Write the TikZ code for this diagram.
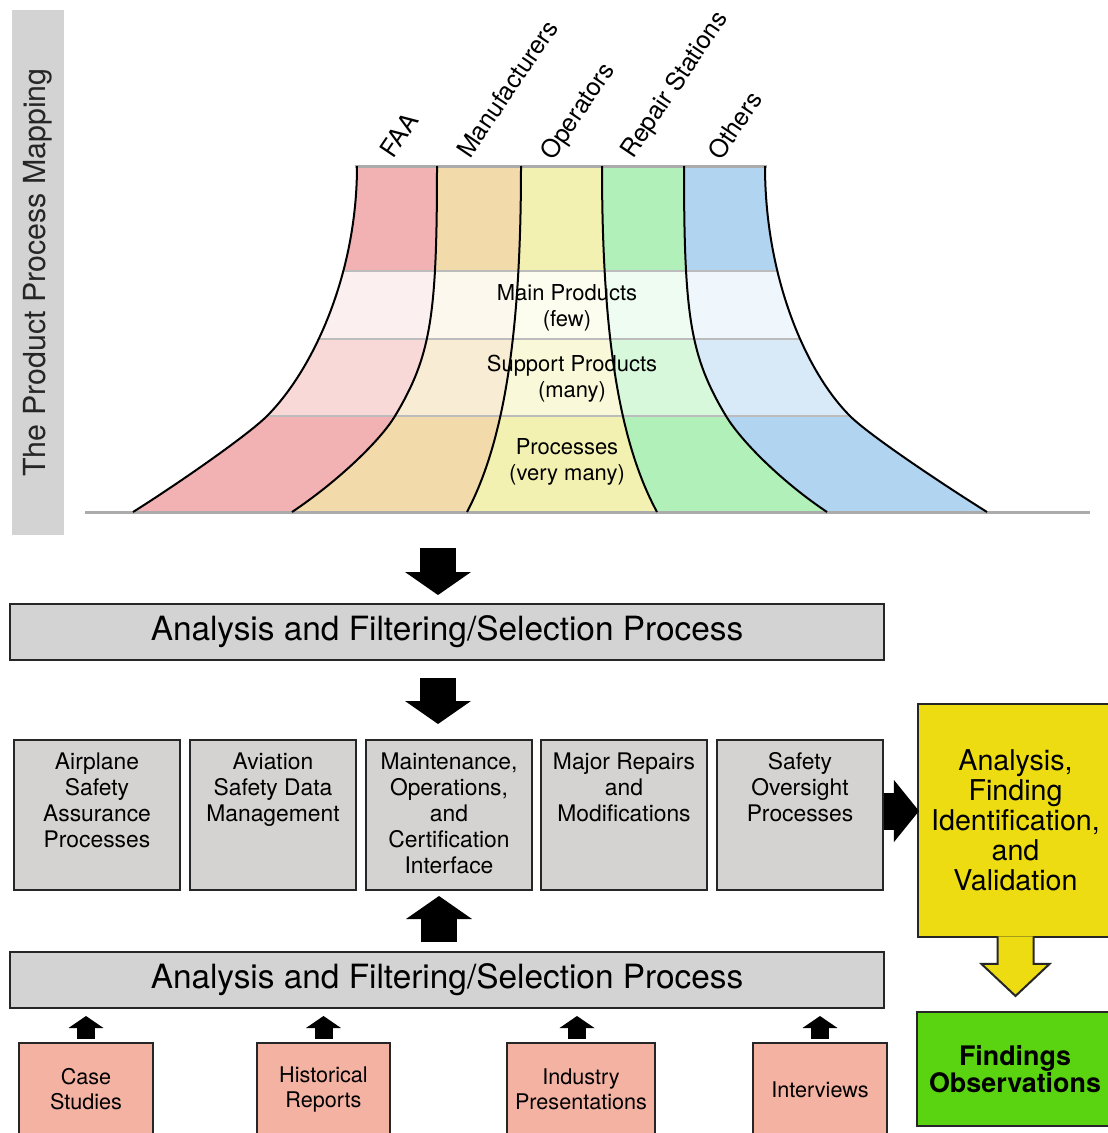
\documentclass[tikz,border=0pt]{standalone}
\usepackage{fontspec}
\setmainfont{TeX Gyre Heros}
\usepackage{tikz}
\usetikzlibrary{positioning,calc,arrows.meta}

\definecolor{faa}{HTML}{F2B1B2}
\definecolor{manu}{HTML}{F3DAAB}
\definecolor{oper}{HTML}{F2F1B1}
\definecolor{repair}{HTML}{B1F1B9}
\definecolor{others}{HTML}{B1D4F1}
\definecolor{boxgray}{HTML}{D5D2D2}
\definecolor{bargray}{HTML}{D3D3D3}
\definecolor{pinkbox}{HTML}{F4B2A3}
\definecolor{yelbox}{HTML}{EDDC12}
\definecolor{greenbox}{HTML}{5AD410}
\definecolor{linegray}{HTML}{ABABAB}
\definecolor{boxline}{HTML}{262626}

\begin{document}
\begin{tikzpicture}[x=0.02cm,y=-0.02cm,
    laneline/.style={draw=black, line width=0.04cm},
    rimline/.style={draw=linegray, line width=0.06cm},
    bandline/.style={draw=linegray!80, line width=0.05cm},
    lanelabel/.style={anchor=base west, rotate=56, inner sep=0pt, font=\fontsize{14.2}{16}\selectfont},
    bandtext/.style={align=center, inner sep=0pt, font=\fontsize{12.5}{14.8}\selectfont},
    mapbar/.style={fill=bargray, rotate=90, minimum width=10.5cm, minimum height=1.04cm, inner sep=0pt, text=black!85, font=\fontsize{17.3}{20}\selectfont},
    bar/.style={draw=boxline, fill=bargray, line width=0.04cm, minimum width=17.48cm, minimum height=1.12cm, inner sep=0pt, font=\fontsize{19}{22}\selectfont},
    graybox/.style={draw=boxline, fill=boxgray, line width=0.04cm, minimum width=3.32cm, minimum height=3cm, inner sep=0pt},
    boxtext/.style={align=center, inner sep=0pt, font=\fontsize{13}{14.8}\selectfont},
    pinkbox/.style={draw=boxline, fill=pinkbox, line width=0.04cm, minimum height=1.86cm, inner sep=0pt, align=center, font=\fontsize{12.3}{14.2}\selectfont},
    yelbox/.style={draw=boxline, fill=yelbox, line width=0.04cm, minimum width=3.9cm, minimum height=4.66cm, inner sep=0pt, align=center, font=\fontsize{16.3}{17.1}\selectfont},
    greenbox/.style={draw=boxline, fill=greenbox, line width=0.04cm, minimum width=3.92cm, minimum height=2.28cm, inner sep=0pt, align=center, font=\bfseries\fontsize{15.3}{14.2}\selectfont},
    bigarrow/.style={line width=0.72cm, -{Triangle[width=1.32cm,length=0.46cm,line width=0pt]}},
    sidearrow/.style={line width=0.74cm, -{Triangle[width=1.24cm,length=0.5cm,line width=0pt]}},
    smallarrow/.style={line width=0.36cm, -{Triangle[width=0.7cm,length=0.24cm,line width=0pt]}},
    hollowarrow/.style={fill=yelbox, draw=boxline, line width=0.04cm, line join=miter}]

  \useasboundingbox (0,0) rectangle (1107,1133);

  % lanes of the funnel
  \begin{scope}
    \clip (357,166) .. controls (357,276) and (312,371) .. (267,416) .. controls (247,436) and (173,487) .. (133,512)
      -- (292,512) .. controls (337,482) and (380,441) .. (395,416) .. controls (431,356) and (437,316) .. (437,166) -- cycle;
    \foreach \ya/\yb/\t in {166/271/100,271/339/20,339/416/50,416/512/100}
      \fill[faa!\t] (0,\ya) rectangle (1107,\yb);
  \end{scope}
  \begin{scope}
    \clip (437,166) .. controls (437,316) and (431,356) .. (395,416) .. controls (380,441) and (337,482) .. (292,512)
      -- (467,512) .. controls (505,440) and (521,330) .. (521,166) -- cycle;
    \foreach \ya/\yb/\t in {166/271/100,271/339/20,339/416/50,416/512/100}
      \fill[manu!\t] (0,\ya) rectangle (1107,\yb);
  \end{scope}
  \begin{scope}
    \clip (521,166) .. controls (521,330) and (505,440) .. (467,512)
      -- (657,512) .. controls (618,440) and (602,330) .. (602,166) -- cycle;
    \foreach \ya/\yb/\t in {166/271/100,271/339/20,339/416/50,416/512/100}
      \fill[oper!\t] (0,\ya) rectangle (1107,\yb);
  \end{scope}
  \begin{scope}
    \clip (602,166) .. controls (602,330) and (618,440) .. (657,512)
      -- (827,512) .. controls (782,482) and (741,441) .. (726,416) .. controls (690,356) and (684,316) .. (684,166) -- cycle;
    \foreach \ya/\yb/\t in {166/271/100,271/339/20,339/416/50,416/512/100}
      \fill[repair!\t] (0,\ya) rectangle (1107,\yb);
  \end{scope}
  \begin{scope}
    \clip (684,166) .. controls (684,316) and (690,356) .. (726,416) .. controls (741,441) and (782,482) .. (827,512)
      -- (987,512) .. controls (947,487) and (870,436) .. (850,416) .. controls (805,371) and (765,276) .. (765,166) -- cycle;
    \foreach \ya/\yb/\t in {166/271/100,271/339/20,339/416/50,416/512/100}
      \fill[others!\t] (0,\ya) rectangle (1107,\yb);
  \end{scope}

  % product bands
  \begin{scope}
    \clip (357,166) .. controls (357,276) and (312,371) .. (267,416) .. controls (247,436) and (173,487) .. (133,512)
      -- (987,512) .. controls (947,487) and (870,436) .. (850,416) .. controls (805,371) and (765,276) .. (765,166) -- cycle;
    \foreach \y in {271,339,416}
      \draw[bandline] (0,\y) -- (1107,\y);
  \end{scope}

  \draw[rimline] (355,166) -- (767,166);
  \draw[rimline] (85,512) -- (1090,512);

  \draw[laneline] (357,166) .. controls (357,276) and (312,371) .. (267,416) .. controls (247,436) and (173,487) .. (133,512);
  \draw[laneline] (437,166) .. controls (437,316) and (431,356) .. (395,416) .. controls (380,441) and (337,482) .. (292,512);
  \draw[laneline] (521,166) .. controls (521,330) and (505,440) .. (467,512);
  \draw[laneline] (602,166) .. controls (602,330) and (618,440) .. (657,512);
  \draw[laneline] (684,166) .. controls (684,316) and (690,356) .. (726,416) .. controls (741,441) and (782,482) .. (827,512);
  \draw[laneline] (765,166) .. controls (765,276) and (805,371) .. (850,416) .. controls (870,436) and (947,487) .. (987,512);

  \node[lanelabel] (faalabel) at (393,160) {FAA};
  \node[lanelabel] (manulabel) at (470,160) {Manufacturers};
  \node[lanelabel] (operlabel) at (553,162) {Operators};
  \node[lanelabel] (repairlabel) at (633,160) {Repair Stations};
  \node[lanelabel] (otherslabel) at (721,162) {Others};

  \node[bandtext] (mainprod) at (567,308) {Main Products\\(few)};
  \node[bandtext] (supprod) at (572,379) {Support Products\\(many)};
  \node[bandtext] (procs) at (567,462) {Processes\\(very many)};

  \node[mapbar] (mapping) at (38,272.5) {The Product Process Mapping};

  % filtering and the product areas
  \node[bar] (filter1) at (447,632) {Analysis and Filtering/Selection Process\hspace{0.28cm}};
  \node[bar] (filter2) at (447,980) {Analysis and Filtering/Selection Process\hspace{0.28cm}};

  \node[graybox] (area1) at (97,815) {};
  \node[graybox] (area2) at (273,815) {};
  \node[graybox] (area3) at (449,815) {};
  \node[graybox] (area4) at (624,815) {};
  \node[graybox] (area5) at (800,815) {};
  \node[boxtext, below=0.27cm of area1.north] (text1) {Airplane\\Safety\\Assurance\\Processes};
  \node[boxtext, below=0.27cm of area2.north] (text2) {Aviation\\Safety Data\\Management};
  \node[boxtext, below=0.27cm of area3.north] (text3) {Maintenance,\\Operations,\\and\\Certification\\Interface};
  \node[boxtext, below=0.27cm of area4.north] (text4) {Major Repairs\\and\\Modifications};
  \node[boxtext, below=0.27cm of area5.north] (text5) {Safety\\Oversight\\Processes};

  \node[yelbox] (validation) at (1015.5,820.5) {Analysis,\\Finding\\Identification,\\and\\Validation};
  \node[greenbox] (findings) at (1015,1069) {Findings\\Observations};

  \node[pinkbox, minimum width=2.68cm] (cases) at (86,1089.5) {Case\\Studies};
  \node[pinkbox, minimum width=2.66cm] (history) at (323.5,1089.5) {Historical\\Reports};
  \node[pinkbox, minimum width=2.96cm] (industry) at (581,1089.5) {Industry\\Presentations};
  \node[pinkbox, minimum width=2.68cm] (interviews) at (820,1089.5) {Interviews};

  % arrows
  \draw[bigarrow] ($(filter1.north)+(-9,-55)$) -- ($(filter1.north)+(-9,-8)$);
  \draw[bigarrow] ($(filter1.south)+(-9,17)$) -- ($(filter1.south)+(-9,63)$);
  \draw[bigarrow] ($(filter2.north)+(-8,-9)$) -- ($(filter2.north)+(-8,-55)$);
  \draw[sidearrow] ($(area5.east)+(0,-4)$) -- ($(area5.east)+(35,-4)$);
  \draw[smallarrow] ($(cases.north)+(0,-3)$) -- ($(cases.north |- filter2.south)+(0,7)$);
  \draw[smallarrow] ($(history.north)+(0,-3)$) -- ($(history.north |- filter2.south)+(0,7)$);
  \draw[smallarrow] ($(industry.north)+(-4,-3)$) -- ($(industry.north |- filter2.south)+(-4,7)$);
  \draw[smallarrow] ($(interviews.north)+(0,-3)$) -- ($(interviews.north |- filter2.south)+(0,7)$);
  \filldraw[hollowarrow] ($(validation.south)+(-18,-1.5)$) -- ++(0,27.5) -- ++(-16,0)
    -- ++(34,32) -- ++(34,-32) -- ++(-16,0) -- ++(0,-27.5);
\end{tikzpicture}
\end{document}
